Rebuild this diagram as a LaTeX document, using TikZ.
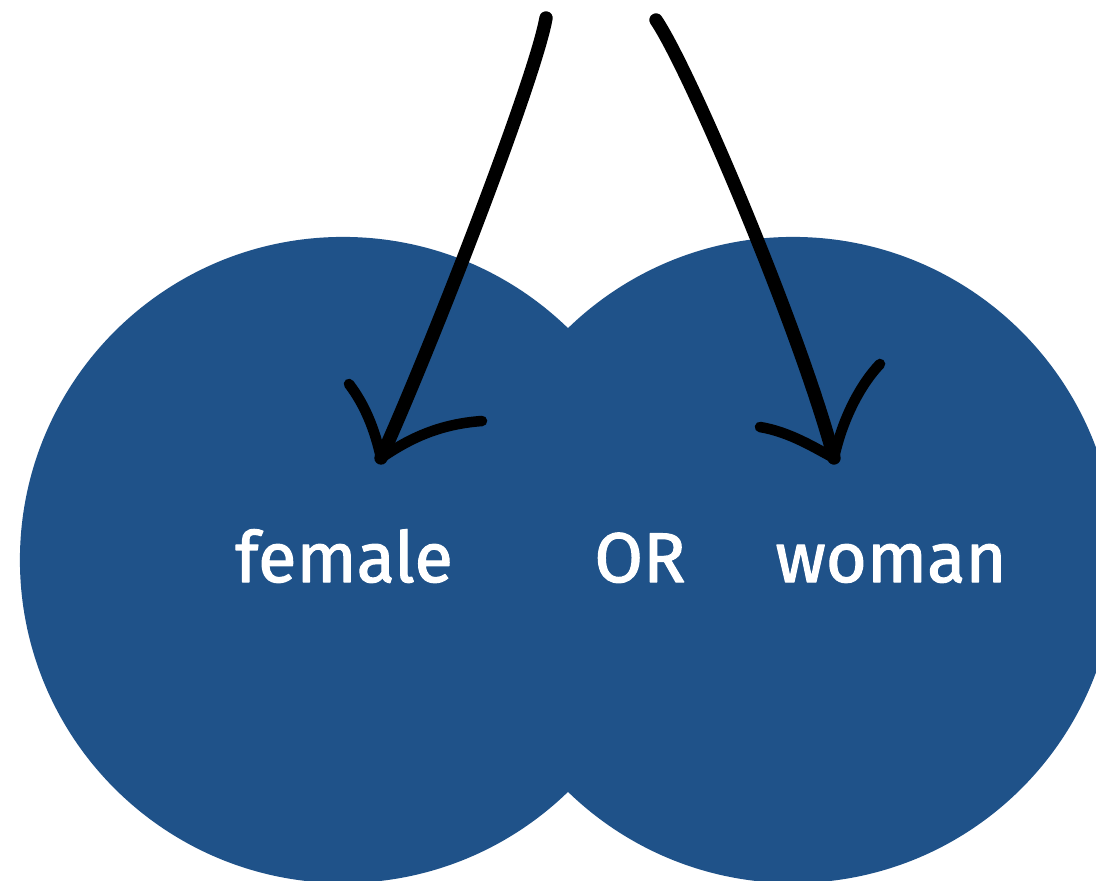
\documentclass[tikz,border=0pt]{standalone}
\usepackage{fontspec}
\setmainfont{Fira Sans}
\newfontfamily\wordfont[FakeBold=1.6]{Fira Sans}
\usetikzlibrary{positioning}
\definecolor{setblue}{RGB}{31,82,137}

\begin{document}
\begin{tikzpicture}[x=0.025cm, y=-0.025cm, line cap=round, line join=round]
    \tikzset{set/.style={circle,fill=setblue,minimum size=16.15cm,inner sep=0pt},
             word/.style={text=white,anchor=base,inner sep=0pt,font=\wordfont\fontsize{50}{60}\selectfont},
             stroke/.style={draw=black,line width=9.5pt},
             wing/.style={draw=black,line width=7.5pt}}
    \useasboundingbox (0,0) rectangle (1096,880);
    \fill[white] (0,0) rectangle (1096,880);
    \node[set] (left)  at (343,560) {};
    \node[set] (right) at (793,560) {};
    \node[word] (female) at (344,582) {female};
    \node[word] (or)     at (640,582) {OR};
    \node[word] (woman)  at (891,582) {woman};
    % hand drawn arrows
    \coordinate (lstart) at (546,18);
    \coordinate (ltip)   at (381,458);
    \coordinate (lwingl) at (349,384);
    \coordinate (lwingr) at (482,421);
    \coordinate (rstart) at (656,20);
    \coordinate (rtip)   at (834,458);
    \coordinate (rwingl) at (760,427);
    \coordinate (rwingr) at (880,364);
    \draw[stroke] (lstart) .. controls (535,80) and (430,350) .. (ltip);
    \draw[wing] (lwingl) .. controls (365,405) and (375,430) .. (ltip);
    \draw[wing] (ltip) .. controls (410,438) and (440,424) .. (lwingr);
    \draw[stroke] (rstart) .. controls (690,70) and (800,330) .. (rtip);
    \draw[wing] (rwingl) .. controls (790,432) and (815,448) .. (rtip);
    \draw[wing] (rtip) .. controls (842,420) and (860,385) .. (rwingr);
\end{tikzpicture}
\end{document}
